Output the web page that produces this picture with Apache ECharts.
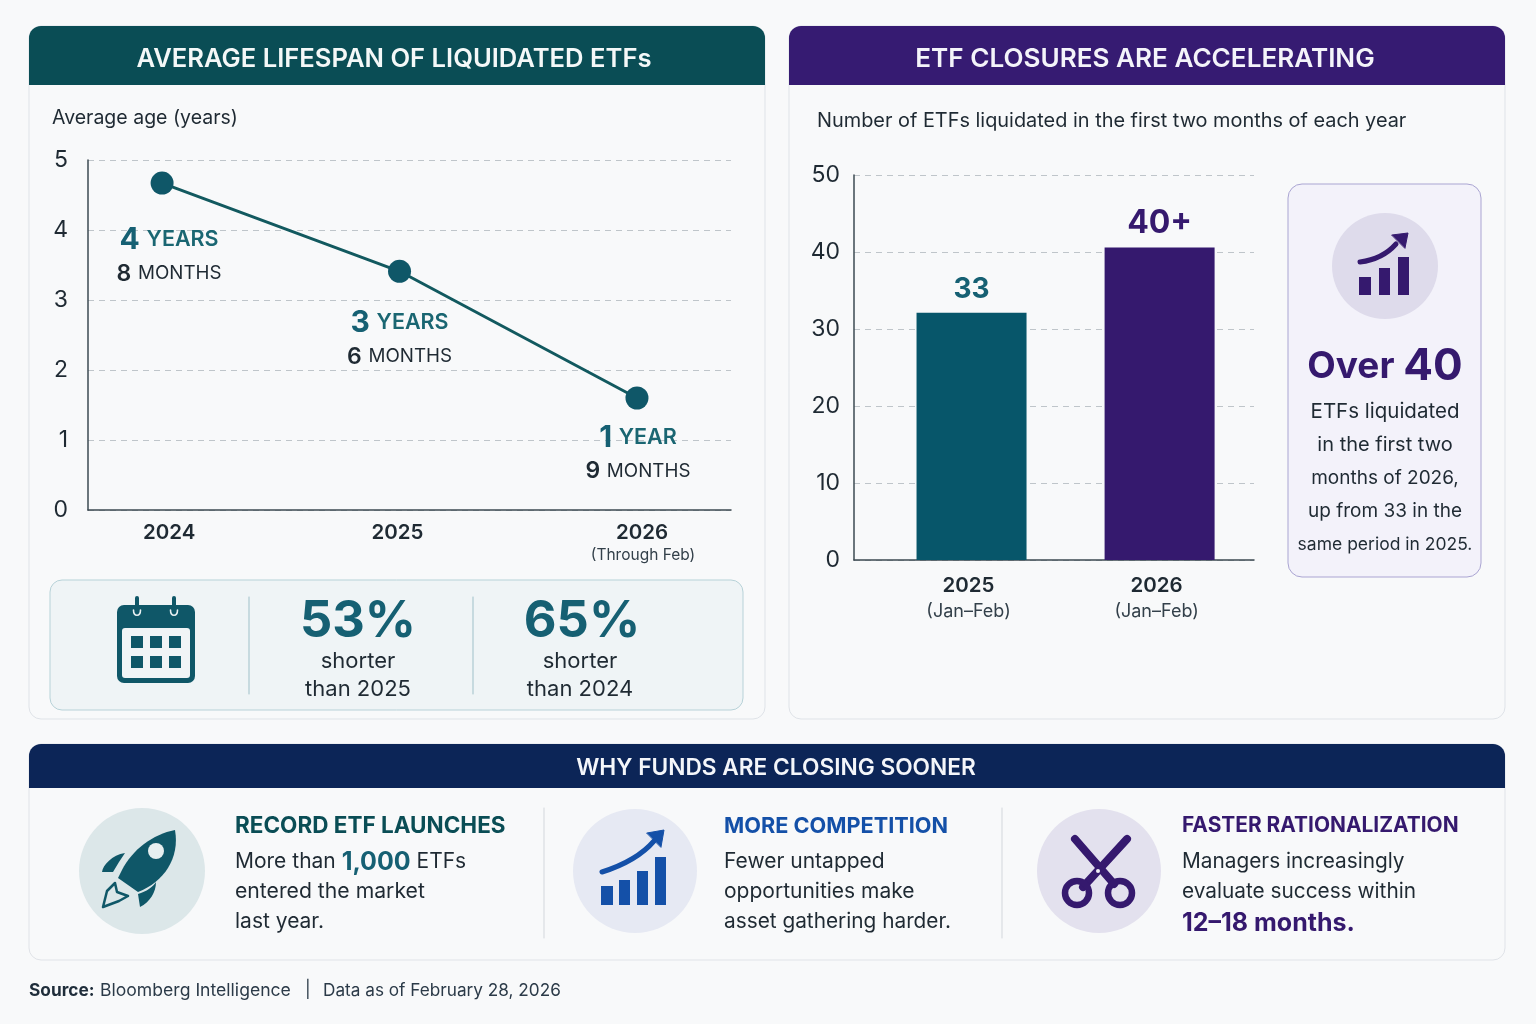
<!DOCTYPE html>
<html><head><meta charset="utf-8">
<style>html,body{margin:0;padding:0;background:#f8f9fa}#c{width:1536px;height:1024px}</style>
<script src="https://cdn.jsdelivr.net/npm/echarts@6/dist/echarts.min.js"></script>
</head><body><div id="c"></div>
<script>
const lineYears = [2024, 2025, 2026];
const lineYearLabels = ['2024', '2025', '2026'];
const avgAge = [4.67, 3.41, 1.6];
const ageYears = ['4 YEARS', '3 YEARS', '1 YEAR'];
const ageMonths = ['8 MONTHS', '6 MONTHS', '9 MONTHS'];
const barYears = [2025, 2026];
const barSub = '(Jan–Feb)';
const barValues = [32.1, 40.6];
const barLabels = ['33', '40+'];

const F = '"Inter","Noto Sans",sans-serif';
const TEAL = '#0f5768', TEALH = '#0a4d55', TEALT = '#166073', BAR1 = '#07566a', PUR = '#35196e', NAVY = '#0c2557', BLUE = '#1450a8', INK = '#1f2a33';

const g = [];
let shapeId = 0;
const rect = (x, y, w, h, r, fill, stroke, z) => g.push({type:'rect', z:z||-10, silent:true, shape:{x, y, width:w, height:h, r}, style:{fill, stroke:stroke||null, lineWidth:stroke?1:0}});
const line = (x1, y1, x2, y2, stroke, lw, z) => g.push({type:'line', z:z||-5, silent:true, shape:{x1, y1, x2, y2}, style:{stroke, lineWidth:lw||1, lineCap:'round'}});
const circ = (cx, cy, r, fill, stroke, lw, z) => g.push({type:'circle', z:z||-5, silent:true, shape:{cx, cy, r}, style:{fill:fill||'transparent', stroke:stroke||null, lineWidth:lw||0}});
const txt = (x, y, text, size, color, weight, align, rich) => g.push({type:'text', z:5, silent:true, x, y, style:{text, x:0, y:0, fontSize:size, fontWeight:weight||400, fontFamily:F, fill:color, align:align||'left', verticalAlign:'middle', rich}});
const pathAbs = (d, x, y, fill, stroke, lw) => {
  const name = 'iconPath' + (shapeId++);
  echarts.graphic.registerShape(name, echarts.graphic.extendPath(d, {}));
  g.push({type:name, z:-4, silent:true, x, y, style:{fill:fill||'transparent', stroke:stroke||null, lineWidth:lw||0, lineCap:'round', lineJoin:'round'}});
};

// panels
rect(29, 26, 736, 693, 12, '#f8f9fa', '#dfe3e8');
rect(789, 26, 716, 693, 12, '#f8f9fa', '#dfe3e8');
rect(29, 744, 1476, 216, 12, '#f8f9fa', '#e0e3e8');
rect(29, 26, 736, 59, [12,12,0,0], TEALH, null, -9);
rect(789, 26, 716, 59, [12,12,0,0], '#361b72', null, -9);
rect(29, 744, 1476, 44, [12,12,0,0], NAVY, null, -9);
txt(394, 59, 'AVERAGE LIFESPAN OF LIQUIDATED ETFs', 25.6, '#f4f8f8', 600, 'center');
txt(1145, 59, 'ETF CLOSURES ARE ACCELERATING', 26.1, '#f4f4fa', 600, 'center');
txt(776, 768.5, 'WHY FUNDS ARE CLOSING SOONER', 22.7, '#f4f6fa', 600, 'center');
txt(52, 118, 'Average age (years)', 19.5, INK);
txt(817, 121, 'Number of ETFs liquidated in the first two months of each year', 19.9, INK);
txt(643, 555.5, '(Through Feb)', 15.5, '#33404a', 400, 'center');

// stats box
rect(50, 580, 693, 130, 12, '#eff4f6', '#b7d2d8', -9);
line(249, 597, 249, 694, '#9fc0c9');
line(473, 597, 473, 694, '#9fc0c9');
rect(117, 605, 78, 78, 7, TEAL, null, -5);
rect(122, 628, 68, 50, 3, '#f0f4f6', null, -4);
[131,150,169].forEach(x => [636,656].forEach(y => rect(x, y, 12, 12, 0, TEAL, null, -3)));
[137,174].forEach(x => { line(x, 598, x, 611, TEAL, 4); pathAbs('M0 0 C 0 7 7 7 7 0', x - 3.5, 610, 'transparent', '#eaf1f3', 1.6); });
txt(358, 622, '53%', 50.5, TEALT, 700, 'center');
txt(358, 661, 'shorter', 22, INK, 400, 'center');
txt(358, 689, 'than 2025', 22, INK, 400, 'center');
txt(582, 622, '65%', 50.5, TEALT, 700, 'center');
txt(580, 661, 'shorter', 22, INK, 400, 'center');
txt(580, 689, 'than 2024', 22, INK, 400, 'center');

// callout
rect(1288, 184, 193, 393, 14, '#f3f2fa', '#aaa5d2', -9);
circ(1385, 266, 53, '#dedbeb');
[[1359,277,12,18],[1379,268,11,27],[1398,257,11,38]].forEach(b => rect(b[0], b[1], b[2], b[3], 0, PUR, null, -3));
pathAbs('M0 22 C 16 20 28 13 36 4', 1360, 240, 'transparent', PUR, 5);
pathAbs('M0 2 L 16 0 L 13 15 Z', 1392, 233, PUR, PUR, 1);
txt(1385, 367, '{a|Over }{b|40}', 40, PUR, 700, 'center', {a:{fontSize:37, fontWeight:700, fontFamily:F, fill:PUR}, b:{fontSize:44, fontWeight:700, fontFamily:F, fill:PUR}});
['ETFs liquidated','in the first two','months of 2026,','up from 33 in the','same period in 2025.'].forEach((t,i) => txt(1385, 412+33.2*i, t, [20.5,20,19,19,17.5][i], INK, 400, 'center'));

// bottom
line(544, 808, 544, 938, '#d3d7dc');
line(1002, 808, 1002, 938, '#d3d7dc');
circ(142, 871, 63, '#dce7e9', null, 0, -6);
circ(635, 871, 62, '#e6e9f3', null, 0, -6);
circ(1099, 871, 62, '#e3e1ee', null, 0, -6);
// rocket
pathAbs('M57 0 C 35 4 14 20 4 40 L 0 48 L 20 62 C 46 52 62 28 57 0 Z', 118, 830, TEAL);
circ(156, 851, 8, '#e6eff0', null, 0, -3);
pathAbs('M23 0 C 10 2 1 12 0 19 L 11 19 L 17 9 Z', 102, 853, TEAL);
pathAbs('M18 0 C 16 4 8 10 0 12 L 2 25 C 12 20 18 10 18 0 Z', 138, 882, TEAL);
pathAbs('M0 24 L 4 8 L 12 0 L 14 9 L 25 13 L 16 18 Z', 103, 883, 'transparent', TEAL, 2.5);
// chart icon blue
[[601,886,12,19],[619,880,11,25],[637,871,11,34],[655,857,11,48]].forEach(b => rect(b[0], b[1], b[2], b[3], 0, BLUE, null, -3));
pathAbs('M0 37 C 22 30 40 20 52 6', 602, 835, 'transparent', BLUE, 5);
pathAbs('M0 3 L 17 0 L 14 17 Z', 647, 830, BLUE, BLUE, 1);
// scissors
line(1075, 839, 1114, 884, PUR, 8, -4);
line(1127, 839, 1083, 887, PUR, 8, -4);
circ(1077, 893, 12, 'transparent', PUR, 6.5, -4);
circ(1120, 893, 12, 'transparent', PUR, 6.5, -4);
circ(1098, 871, 2, '#efeef5', null, 0, -3);

const col1 = {a:{fontFamily:F, fontSize:21, fill:INK}, b:{fontFamily:F, fontSize:25, fontWeight:700, fill:TEALT}};
txt(235, 826, 'RECORD ETF LAUNCHES', 22.5, TEALH, 700);
txt(235, 862, '{a|More than }{b|1,000}{a| ETFs}', 21, INK, 400, 'left', col1);
txt(235, 892, 'entered the market', 21.2, INK);
txt(235, 922, 'last year.', 21, INK);
txt(724, 826, 'MORE COMPETITION', 21.7, BLUE, 700);
txt(724, 862, 'Fewer untapped', 21, INK);
txt(724, 892, 'opportunities make', 21, INK);
txt(724, 922, 'asset gathering harder.', 20.8, INK);
txt(1182, 826, 'FASTER RATIONALIZATION', 20.9, PUR, 700);
txt(1182, 862, 'Managers increasingly', 20.8, INK);
txt(1182, 892, 'evaluate success within', 20.8, INK);
txt(1182, 923, '12–18 months.', 25, PUR, 700);
txt(29, 991, 'Source:', 17.3, '#1f2d3a', 700);
txt(100, 991, 'Bloomberg Intelligence', 17.6, '#2b3a48');
txt(305, 990, '|', 17, '#2b3a48');
txt(323, 991, 'Data as of February 28, 2026', 17.2, '#2b3a48');

const split = {show:true, lineStyle:{type:[6,5], color:'#bfc5ca', width:1}};
const axisTxt = {fontFamily:F, fontSize:23, color:INK};
const xRich = {a:{fontFamily:F, fontSize:20.5, fontWeight:600, color:INK, padding:[2,0,0,14]},
               b:{fontFamily:F, fontSize:20.5, fontWeight:600, color:INK, padding:[2,4,0,0]},
               c:{fontFamily:F, fontSize:20.5, fontWeight:600, color:INK, padding:[2,0,0,10]}};
const option = {
  animation:false,
  backgroundColor:'#f8f9fa',
  graphic:{elements:g},
  grid:[
    {left:88, top:160, width:643, height:350},
    {left:854, top:175, width:400, height:385}
  ],
  xAxis:[
    {type:'value', gridIndex:0, min:2023.688, max:2026.396, splitLine:{show:false}, axisTick:{show:false},
     axisLine:{show:true, onZero:false, lineStyle:{color:'#3c4a52', width:1.5}},
     axisLabel:{customValues:lineYears, margin:10, formatter:v => { const i = lineYears.indexOf(v); return '{'+'abc'[i]+'|'+lineYearLabels[i]+'}'; }, rich:xRich}},
    {type:'value', gridIndex:1, min:2024.375, max:2026.502, splitLine:{show:false}, axisTick:{show:false},
     axisLine:{show:true, onZero:false, lineStyle:{color:'#3c4a52', width:1.5}},
     axisLabel:{customValues:barYears, margin:12, formatter:v => '{y|'+v+'}\n{s|'+barSub+'}',
       rich:{y:{fontFamily:F, fontSize:20.5, fontWeight:600, color:INK, lineHeight:28, padding:[0,6,0,0]}, s:{fontFamily:F, fontSize:18, color:'#33404a', lineHeight:24, padding:[0,6,0,0]}}}}
  ],
  yAxis:[
    {type:'value', gridIndex:0, min:0, max:5, interval:1, splitLine:split, axisTick:{show:false},
     axisLine:{show:true, lineStyle:{color:'#3c4a52', width:1.5}}, axisLabel:Object.assign({margin:20}, axisTxt)},
    {type:'value', gridIndex:1, min:0, max:50, interval:10, splitLine:split, axisTick:{show:false},
     axisLine:{show:true, lineStyle:{color:'#3c4a52', width:1.5}}, axisLabel:Object.assign({margin:14}, axisTxt)}
  ],
  series:[
    {type:'line', xAxisIndex:0, yAxisIndex:0, symbol:'circle', symbolSize:23,
     lineStyle:{color:'#12595f', width:3}, itemStyle:{color:TEAL},
     data:lineYears.map((x,i) => ({value:[x, avgAge[i]],
       label:{offset:[[7,13],[0,8],[1,-4]][i]}})),
     label:{show:true, position:'bottom', distance:14, align:'center',
       formatter:p => {
         const y = ageYears[p.dataIndex].split(' '), m = ageMonths[p.dataIndex].split(' ');
         return '{n|'+y[0]+'}  {u|'+y[1]+'}\n{k|'+m[0]+'}  {v|'+m[1]+'}';
       },
       rich:{n:{fontFamily:F, fontSize:30, fontWeight:700, color:TEALT, lineHeight:36},
             u:{fontFamily:F, fontSize:21.5, fontWeight:600, color:'#1a6672', lineHeight:36},
             k:{fontFamily:F, fontSize:23, fontWeight:600, color:INK, lineHeight:32},
             v:{fontFamily:F, fontSize:18.8, color:INK, lineHeight:32}}}},
    {type:'bar', xAxisIndex:1, yAxisIndex:1, barWidth:110,
     data:barYears.map((x,i) => ({value:[x, barValues[i]], itemStyle:{color:[BAR1, PUR][i]},
       label:{color:[TEALT, PUR][i], fontSize:[28,32][i], distance:[9,8][i]}})),
     label:{show:true, position:'top', fontFamily:F, fontWeight:700,
       formatter:p => barLabels[p.dataIndex]}}
  ]
};
echarts.init(document.getElementById('c'), null, {renderer:'canvas'}).setOption(option);
</script></body></html>
